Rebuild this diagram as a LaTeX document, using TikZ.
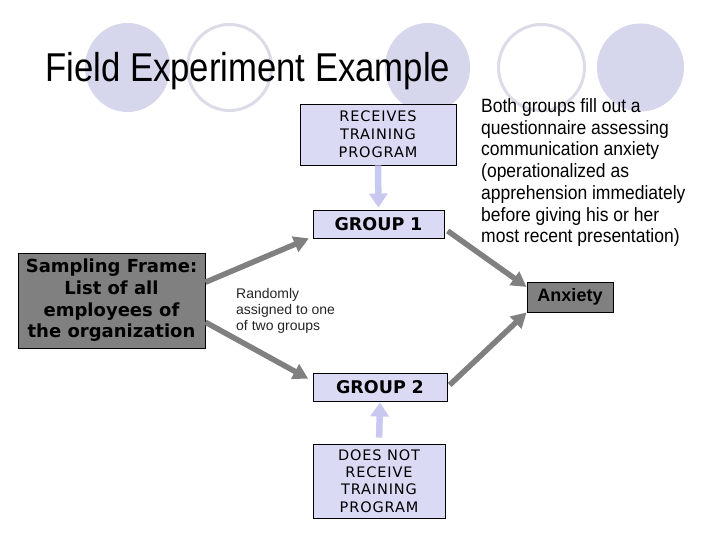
\documentclass[tikz,border=0pt]{standalone}
\usepackage{graphicx}
\usepackage{fontspec}
\setmainfont{Liberation Sans}
\newfontfamily\verd[LetterSpace=6]{DejaVu Sans}
\newfontfamily\verdb{DejaVu Sans}
\usetikzlibrary{arrows.meta}
\definecolor{lav}{RGB}{214,214,236}
\definecolor{lavbox}{RGB}{218,218,245}
\definecolor{lavarrow}{RGB}{200,200,240}
\definecolor{ring}{RGB}{220,220,232}
\definecolor{grayarrow}{RGB}{128,128,128}
\definecolor{graybox}{RGB}{128,128,128}
\tikzset{
  blob/.style={fill=lav, draw=none},
  ringe/.style={draw=ring, line width=3pt},
  lavnode/.style={draw=black, line width=0.9pt, fill=lavbox, align=center, inner sep=0pt, text=black},
  graynode/.style={draw=black, line width=0.9pt, fill=graybox, align=center, inner sep=0pt, text=black},
  lavarr/.style={draw=lavarrow, line width=6.5pt, -{Triangle[length=14pt,width=18pt]}},
  grayarr/.style={draw=grayarrow, line width=5.5pt, -{Triangle[length=15pt,width=16pt]}},
  plain/.style={inner sep=0pt, align=left}
}
\begin{document}
\begin{tikzpicture}[x=1pt,y=-1pt]
\useasboundingbox (0,0) rectangle (720,540);
\fill[white] (0,0) rectangle (720,540);
% background circles
\path[blob] (127.5,67.5) ellipse [x radius=42.5, y radius=44.5];
\path[ringe] (229.5,67.5) ellipse [x radius=42, y radius=43];
\path[blob] (427.5,67.5) ellipse [x radius=42.5, y radius=44.5];
\path[ringe] (541.5,67.5) ellipse [x radius=43, y radius=43];
\path[blob] (640.5,67.5) ellipse [x radius=43.5, y radius=44];
% title
\node[anchor=base west, inner sep=0pt, font=\fontsize{34.7}{40}\selectfont] (title) at (45,82) {\scalebox{1}[1.16]{Field Experiment Example}};
% boxes
\node[lavnode, minimum width=156, minimum height=61, font=\verd\fontsize{14.5}{18}\selectfont] (recv) at (378,134.5) {RECEIVES\\TRAINING\\PROGRAM};
\node[lavnode, minimum width=131, minimum height=28, font=\verdb\bfseries\fontsize{17.5}{20}\selectfont] (g1) at (378.5,224) {GROUP\,\,1};
\node[graynode, minimum width=187, minimum height=95, font=\verdb\bfseries\fontsize{18}{21.7}\selectfont] (samp) at (111.5,300.5) {Sampling Frame:\\List of all\\employees of\\the organization};
\node[lavnode, minimum width=134, minimum height=28, font=\verdb\bfseries\fontsize{17.5}{20}\selectfont] (g2) at (380,387) {GROUP\,\,2};
\node[lavnode, minimum width=132, minimum height=74, font=\verd\fontsize{14.5}{17.2}\selectfont] (dnr) at (379,481) {DOES NOT\\RECEIVE\\TRAINING\\PROGRAM};
\node[graynode, minimum width=86, minimum height=30, font=\bfseries\fontsize{18}{20}\selectfont] (anx) at (570,297) {Anxiety};
% free texts
\node[plain, anchor=north west, font=\fontsize{14}{16}\selectfont, text=black!85] (rand) at (236,288) {Randomly\\assigned to one\\of two groups};
\node[plain, anchor=north west, font=\fontsize{17.5}{19.8}\selectfont] (both) at (481,96.8) {\scalebox{1}[1.1]{\begin{tabular}{@{}l@{}}Both groups fill out a\\questionnaire assessing\\communication anxiety\\(operationalized as\\apprehension immediately\\before giving his or her\\most recent presentation)\end{tabular}}};
% connectors
\draw[lavarr, shorten >=2pt] (recv.south) -- (g1.north);
\draw[lavarr, shorten <=6pt, shorten >=1pt] (dnr.north) -- (g2.south);
\draw[grayarr, shorten >=4pt] (samp.11) -- (g1.191);
\draw[grayarr, shorten >=5pt] (samp.-13) -- (g2.175);
\draw[grayarr, shorten <=4pt] (g1.-4) -- (anx.167);
\draw[grayarr, shorten <=3pt] (g2.east) -- (anx.south west);
\end{tikzpicture}
\end{document}
